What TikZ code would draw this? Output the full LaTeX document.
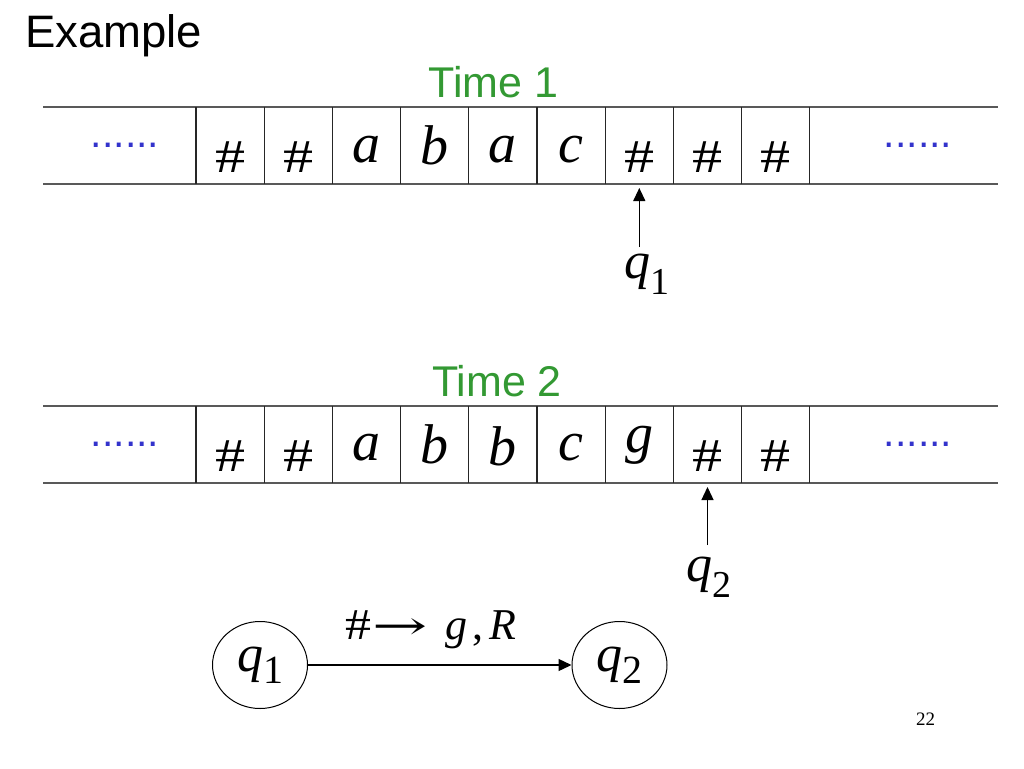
\documentclass[tikz,border=0pt]{standalone}
\usepackage{fontspec}
\setmainfont{Liberation Serif}
\newfontfamily\arialfont{Liberation Sans}
\newfontfamily\arrowfont{DejaVu Serif}
\usetikzlibrary{arrows.meta,shapes.geometric}
\definecolor{timegreen}{RGB}{51,153,51}
\definecolor{dotblue}{RGB}{51,51,204}
\newcommand{\qsub}[3]{{\itshape q}\raisebox{-#3}{\fontsize{#1}{#1}\selectfont #2}}
\newcommand{\wide}[2]{\scalebox{#1}[1]{#2}}
\begin{document}
\begin{tikzpicture}[x=1pt,y=-1pt,
    tapeline/.style={line width=1.8pt,black!65},
    divline/.style={line width=1.3pt,black!85},
    letter/.style={anchor=base,inner sep=0pt,font=\fontsize{56}{56}\selectfont\itshape},
    hash/.style={anchor=base,inner sep=0pt,font=\fontsize{47}{47}\selectfont},
    dots/.style={anchor=base,inner sep=0pt,text=dotblue,font=\arialfont\fontsize{41}{41}\selectfont},
    timelbl/.style={anchor=base,inner sep=0pt,text=timegreen,font=\arialfont\fontsize{43}{43}\selectfont},
    headlbl/.style={anchor=north,inner sep=0pt,font=\fontsize{52}{52}\selectfont},
    headarrow/.style={line width=1.3pt,-{Triangle[width=12pt,length=13pt]}},
    state/.style={draw,ellipse,line width=1pt,inner sep=0pt,minimum width=95pt,minimum height=87pt,font=\fontsize{52}{52}\selectfont}]
    \useasboundingbox (0,0) rectangle (1024,768);
    \node[anchor=base west,inner sep=0pt,font=\arialfont\fontsize{45.5}{45.5}\selectfont] (title) at (25,48) {Example};
    % tape at time 1
    \node[timelbl] (time1) at (493.5,97) {Time 1};
    \draw[tapeline] (43,107) -- (998,107) (43,184) -- (998,184);
    \foreach \k in {0,...,9}
        \draw[divline] ({196+68.2*\k},107) -- ({196+68.2*\k},184);
    \node[dots] (t1l) at (125,147) {......};
    \node[dots] (t1r) at (918,147) {......};
    \foreach \s/\st/\dy [count=\k] in {\wide{1.28}{\#}/hash/65,\wide{1.28}{\#}/hash/65,a/letter/55,b/letter/57,a/letter/55,c/letter/55,\wide{1.28}{\#}/hash/65,\wide{1.28}{\#}/hash/65,\wide{1.28}{\#}/hash/65}
        \node[\st] (t1c\k) at ({196+68.2*(\k-0.5)},{107+\dy}) {\s};
    \coordinate (t1bot) at (0,184);
    \node[headlbl] (h1) at (647,254) {\qsub{38}{1}{16pt}};
    \draw[headarrow,shorten <=7pt,shorten >=4pt] (h1.north -| t1c7) -- (t1c7 |- t1bot);
    % tape at time 2
    \node[timelbl] (time2) at (497,396) {Time 2};
    \draw[tapeline] (43,406) -- (998,406) (43,483) -- (998,483);
    \foreach \k in {0,...,9}
        \draw[divline] ({196+68.2*\k},406) -- ({196+68.2*\k},483);
    \node[dots] (t2l) at (125,446) {......};
    \node[dots] (t2r) at (918,446) {......};
    \foreach \s/\st/\dy [count=\k] in {\wide{1.28}{\#}/hash/65,\wide{1.28}{\#}/hash/65,a/letter/54,b/letter/57,b/letter/59,c/letter/54,g/letter/46,\wide{1.28}{\#}/hash/65,\wide{1.28}{\#}/hash/65}
        \node[\st] (t2c\k) at ({196+68.2*(\k-0.5)},{406+\dy}) {\s};
    \coordinate (t2bot) at (0,483);
    \node[headlbl] (h2) at (709,557) {\qsub{38}{2}{16pt}};
    \draw[headarrow,shorten <=12pt,shorten >=4pt] (h2.north -| t2c8) -- (t2c8 |- t2bot);
    % transition
    \node[state] (s1) at (260,665) {\qsub{40}{1}{12pt}};
    \node[state] (s2) at (619.5,665) {\qsub{40}{2}{12pt}};
    \draw[headarrow] (s1) -- (s2)
        node[midway,above=15.5pt,xshift=-9pt,inner sep=0pt,font=\fontsize{44}{44}\selectfont] (rule) {\wide{1.18}{\#}\kern1pt{\arrowfont\scalebox{1.5}[0.9]{→}}\hspace{18pt}\textit{g}\kern5pt,\kern6pt\textit{R}};
    \node[anchor=base,inner sep=0pt,font=\fontsize{19}{19}\selectfont] (page) at (925.5,725) {22};
\end{tikzpicture}
\end{document}
